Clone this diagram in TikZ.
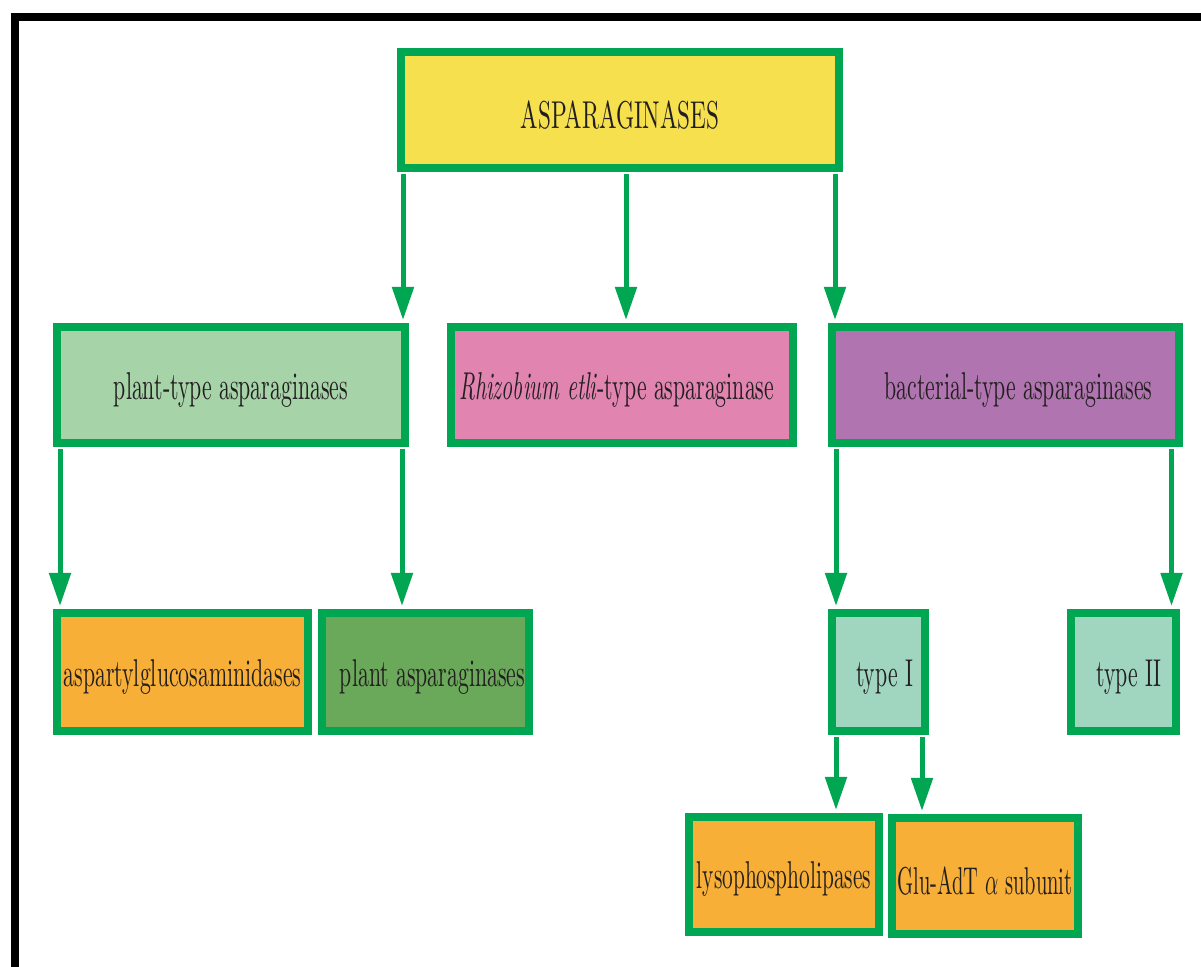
\documentclass[tikz,border=0pt]{standalone}
\usepackage{graphicx}
\usetikzlibrary{arrows.meta}
\definecolor{edgegreen}{RGB}{0,166,81}
\definecolor{inkdark}{RGB}{35,31,32}
\definecolor{topyellow}{RGB}{246,224,78}
\definecolor{ptgreen}{RGB}{166,212,168}
\definecolor{rhpink}{RGB}{225,132,176}
\definecolor{bcpurple}{RGB}{176,117,176}
\definecolor{orng}{RGB}{247,175,55}
\definecolor{dkgreen}{RGB}{106,168,90}
\definecolor{tpmint}{RGB}{160,214,192}
\newcommand{\tall}[2][1]{\raisebox{-2.5pt}[\height][\depth]{\scalebox{#1}[1.78]{#2}}}
\tikzset{
  box/.style={draw=edgegreen, line width=3.8pt, inner sep=0pt, minimum height=58.2pt,
    text=inkdark, font=\fontsize{10.9}{13}\selectfont},
  arr/.style={draw=edgegreen, line width=2.5pt, -{Triangle[length=16.5pt,width=10.5pt]},
    shorten >=1.5pt, shorten <=1pt}
}
\begin{document}
\begin{tikzpicture}[x=0.5pt, y=-0.5pt]
\useasboundingbox (0,0) rectangle (1201,967);
\fill (11,13) rectangle (1201,21);
\fill (11,13) rectangle (19,967);

\node (top) at (620,110) [box, fill=topyellow, minimum width=219.2pt] {\tall[1.065]{ASPARAGINASES}};
\node (ptype) at (231,385) [box, fill=ptgreen, minimum width=174.2pt] {\tall{plant-type asparaginases}};
\node (rhizo) at (622,385) [box, fill=rhpink, minimum width=171.2pt] {\hspace*{-5pt}\tall{\textit{Rhizobium etli}-type asparaginase}};
\node (bact) at (1005.5,385) [box, fill=bcpurple, minimum width=173.7pt] {\hspace*{13pt}\tall{bacterial-type asparaginases}};
\node (aspg) at (182.5,672) [box, fill=orng, minimum width=125.7pt, minimum height=59.2pt] {\tall{aspartylglucosaminidases}};
\node (plasp) at (425.5,672) [box, fill=dkgreen, minimum width=103.7pt, minimum height=59.2pt] {\hspace*{7pt}\tall{plant asparaginases}};
\node (typeI) at (878.5,672) [box, fill=tpmint, minimum width=46.7pt, minimum height=59.2pt] {\hspace*{6pt}\tall{type I}};
\node (typeII) at (1123.5,672) [box, fill=tpmint, minimum width=52.7pt, minimum height=59.2pt] {\hspace*{5.5pt}\tall{type II}};
\node (lyso) at (784,874.5) [box, fill=orng, minimum width=95.2pt, minimum height=57.7pt] {\tall[0.98]{lysophospholipases}};
\node (glu) at (985,876) [box, fill=orng, minimum width=93.2pt] {\tall[0.94]{Glu-AdT $\alpha$ subunit}};

\draw[arr] (top.south -| 403,0) -- (ptype.north -| 403,0);
\draw[arr] (top.south -| 626,0) -- (rhizo.north -| 626,0);
\draw[arr] (top.south -| 835,0) -- (bact.north -| 835,0);
\draw[arr] (ptype.south -| 60,0) -- (aspg.north -| 60,0);
\draw[arr] (ptype.south -| 402,0) -- (plasp.north -| 402,0);
\draw[arr] (bact.south -| 836,0) -- (typeI.north -| 836,0);
\draw[arr] (bact.south -| 1171.5,0) -- (typeII.north -| 1171.5,0);
\draw[arr] (typeI.south -| 836,0) -- (lyso.north -| 836,0);
\draw[arr] (typeI.south -| 922,0) -- (glu.north -| 922,0);
\end{tikzpicture}
\end{document}
